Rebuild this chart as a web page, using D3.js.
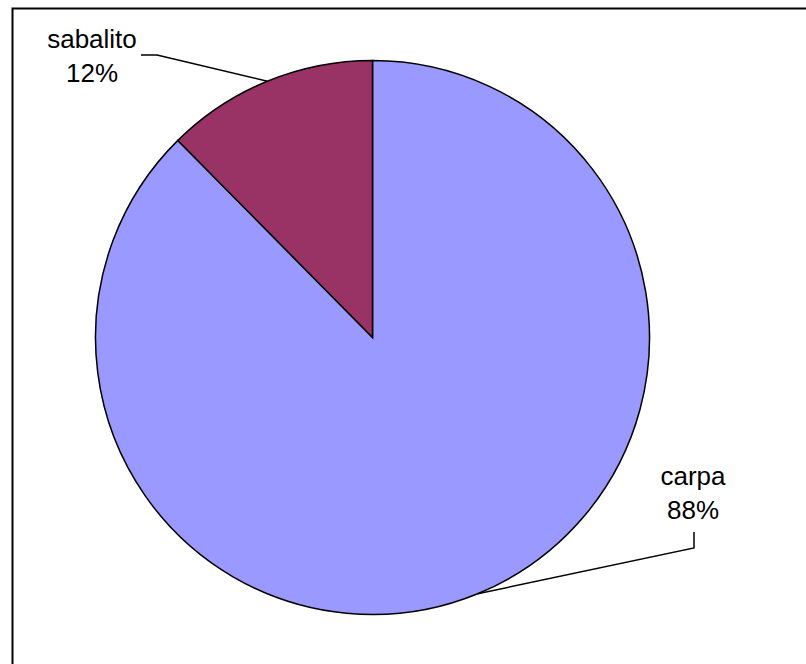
<!DOCTYPE html>
<html lang="es">
<head>
    <meta charset="utf-8">
    <title>D3 - pie</title>
    <style>
        body { margin: 0; background: #fff; }
        svg { display: block; }
    </style>
</head>
<body>
<script src="https://cdn.jsdelivr.net/npm/d3@7/dist/d3.min.js"></script>
<script>
    // datos
    var categories = ["carpa", "sabalito"];
    var values = [0.876, 0.124];
    var colors = ["#9999ff", "#993366"];

    function main() {
        var width = 806,
            height = 664;

        var svg = d3.select("body").append("svg")
            .attr("width", width)
            .attr("height", height);

        // marco del grafico (sale por la derecha y abajo)
        svg.append("rect")
            .attr("x", 12.5)
            .attr("y", 8.5)
            .attr("width", 800)
            .attr("height", 700)
            .attr("fill", "#fff")
            .attr("stroke", "#000")
            .attr("stroke-width", 2);

        var cx = 372.5, cy = 337.5, r = 277;

        var pie = d3.pie().sort(null).value(function (d) { return d; });
        var arcs = pie(values);
        var arc = d3.arc().innerRadius(0).outerRadius(r);

        var g = svg.append("g").attr("transform", "translate(" + cx + "," + cy + ")");

        g.selectAll("path")
            .data(arcs)
            .enter().append("path")
            .attr("d", arc)
            .attr("fill", function (d, i) { return colors[i]; })
            .attr("stroke", "#000")
            .attr("stroke-width", 1.5)
            .attr("stroke-linejoin", "miter");

        // etiquetas con lineas guia
        var labelPos = [
            {x: 693, y: 485, lx: 694, ly: 532, bend: [694, 548]},
            {x: 92, y: 48, lx: 141, ly: 55, bend: [157, 55]}
        ];

        arcs.forEach(function (d, i) {
            var a = (d.startAngle + d.endAngle) / 2;
            var ex = cx + r * Math.sin(a),
                ey = cy - r * Math.cos(a);
            var p = labelPos[i];

            svg.append("polyline")
                .attr("points", [[p.lx, p.ly], p.bend, [ex, ey]].map(function (q) { return q.join(","); }).join(" "))
                .attr("fill", "none")
                .attr("stroke", "#000")
                .attr("stroke-width", 1.5);

            var t = svg.append("text")
                .attr("x", p.x)
                .attr("y", p.y)
                .attr("text-anchor", "middle")
                .style("font-family", "Liberation Sans, Arial, sans-serif")
                .style("font-size", "26px")
                .attr("fill", "#000");
            t.append("tspan").attr("x", p.x).text(categories[i]);
            t.append("tspan").attr("x", p.x).attr("dy", 34)
                .text(Math.round(values[i] * 100) + "%");
        });
    }

    window.onload = function () {
        main();
    };
</script>
</body>
</html>
